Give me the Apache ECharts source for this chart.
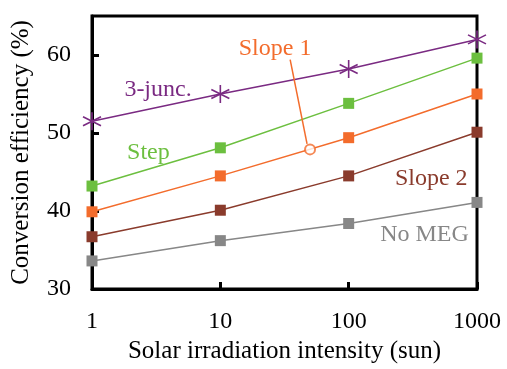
<!DOCTYPE html>
<html><head><meta charset="utf-8">
<script src="https://cdn.jsdelivr.net/npm/echarts@6/dist/echarts.min.js"></script>
<style>html,body{margin:0;padding:0;background:#fff}#c{width:507px;height:369px}</style>
</head><body><div id="c"></div>
<script>
var intensities = [1, 10, 100, 1000];
var junc3 = [51.5, 55.0, 58.2, 62.0];
var step = [43.2, 48.1, 53.8, 59.6];
var slope1 = [39.9, 44.5, 49.4, 55.0];
var slope2 = [36.7, 40.1, 44.5, 50.1];
var noMEG = [33.6, 36.2, 38.4, 41.1];
var yTicks = [30, 40, 50, 60];
var xTicks = [1, 10, 100, 1000];
var markerPoint = [50, 47.9];

var F = 'Liberation Serif, Times New Roman, serif';
var FS = 24;
function pts(v){ return intensities.map(function(x,i){ return [x, v[i]]; }); }
function lbl(text, coord, color){
  return { markPoint: { symbol: 'rect', symbolSize: 1, silent: true,
    itemStyle: { color: 'rgba(0,0,0,0)' },
    label: { show: true, formatter: text, color: color, fontFamily: F, fontSize: FS, position: 'inside' },
    data: [{ coord: coord, value: 0 }] } };
}
function lineSeries(name, v, color, symbol, size, extra){
  var s = { name: name, type: 'line', data: pts(v), symbol: symbol, symbolSize: size,
    lineStyle: { color: color, width: 1.5 }, itemStyle: { color: color }, z: 3 };
  for (var k in extra) s[k] = extra[k];
  return s;
}
var star = 'path://M0,-10L0,10M-8.66,-5L8.66,5M-8.66,5L8.66,-5';
var chart = echarts.init(document.getElementById('c'));
chart.setOption({
  animation: false,
  grid: { left: 92, right: 30, top: 16, bottom: 73, show: true, borderColor: '#000', borderWidth: 3 },
  xAxis: { type: 'log', logBase: 10, min: 1, max: 1000,
    name: 'Solar irradiation intensity (sun)', nameLocation: 'middle', nameGap: 50,
    nameTextStyle: { fontFamily: F, fontSize: 25, color: '#000' },
    axisLine: { lineStyle: { color: '#000', width: 3 } },
    axisTick: { inside: true, length: 7, lineStyle: { color: '#000', width: 3 } },
    axisLabel: { fontFamily: F, fontSize: FS, color: '#000', margin: 21,
      formatter: function(v){ return xTicks.indexOf(Math.round(v)) >= 0 ? String(Math.round(v)) : ''; } },
    splitLine: { show: false }, minorTick: { show: false } },
  yAxis: { type: 'value', min: 30, max: 65, interval: 10,
    name: 'Conversion efficiency (%)', nameLocation: 'middle', nameGap: 58,
    nameTextStyle: { fontFamily: F, fontSize: 25, color: '#000' },
    axisLine: { show: true, lineStyle: { color: '#000', width: 3 } },
    axisTick: { show: true, inside: true, length: 7, lineStyle: { color: '#000', width: 3 } },
    axisLabel: { fontFamily: F, fontSize: FS, color: '#000', margin: 21, showMaxLabel: false,
      padding: [7, 0, 0, 0],
      formatter: function(v){ return yTicks.indexOf(v) >= 0 ? String(v) : ''; } },
    splitLine: { show: false } },
  series: [
    lineSeries('No MEG', noMEG, '#878787', 'rect', 11, lbl('No MEG', [390, 36.9], '#878787')),
    lineSeries('Slope 2', slope2, '#8A3B2C', 'rect', 11, lbl('Slope 2', [440, 44.2], '#8A3B2C')),
    lineSeries('Slope 1', slope1, '#F36C2C', 'rect', 11, (function(){
      var o = lbl('Slope 1', [26.7, 60.8], '#F36C2C');
      o.markLine = { symbol: 'none', silent: true, label: { show: false },
        lineStyle: { color: '#F36C2C', width: 1.5, type: 'solid' },
        data: [[{ coord: [35, 59.4] }, { coord: [47.4, 48.6] }]] };
      return o; })()),
    lineSeries('Step', step, '#6CBF3F', 'rect', 11, lbl('Step', [2.75, 47.5], '#6CBF3F')),
    lineSeries('3-junc.', junc3, '#7A2A82', star, 18, (function(){
      var o = lbl('3-junc.', [3.27, 55.5], '#7A2A82');
      o.itemStyle = { color: 'none', borderColor: '#7A2A82', borderWidth: 1.6 };
      return o; })()),
    { type: 'scatter', data: [markerPoint], symbol: 'emptyCircle', symbolSize: 10, z: 4,
      itemStyle: { color: '#F36C2C', borderColor: '#F36C2C', borderWidth: 1.5 } }
  ]
});
</script></body></html>
